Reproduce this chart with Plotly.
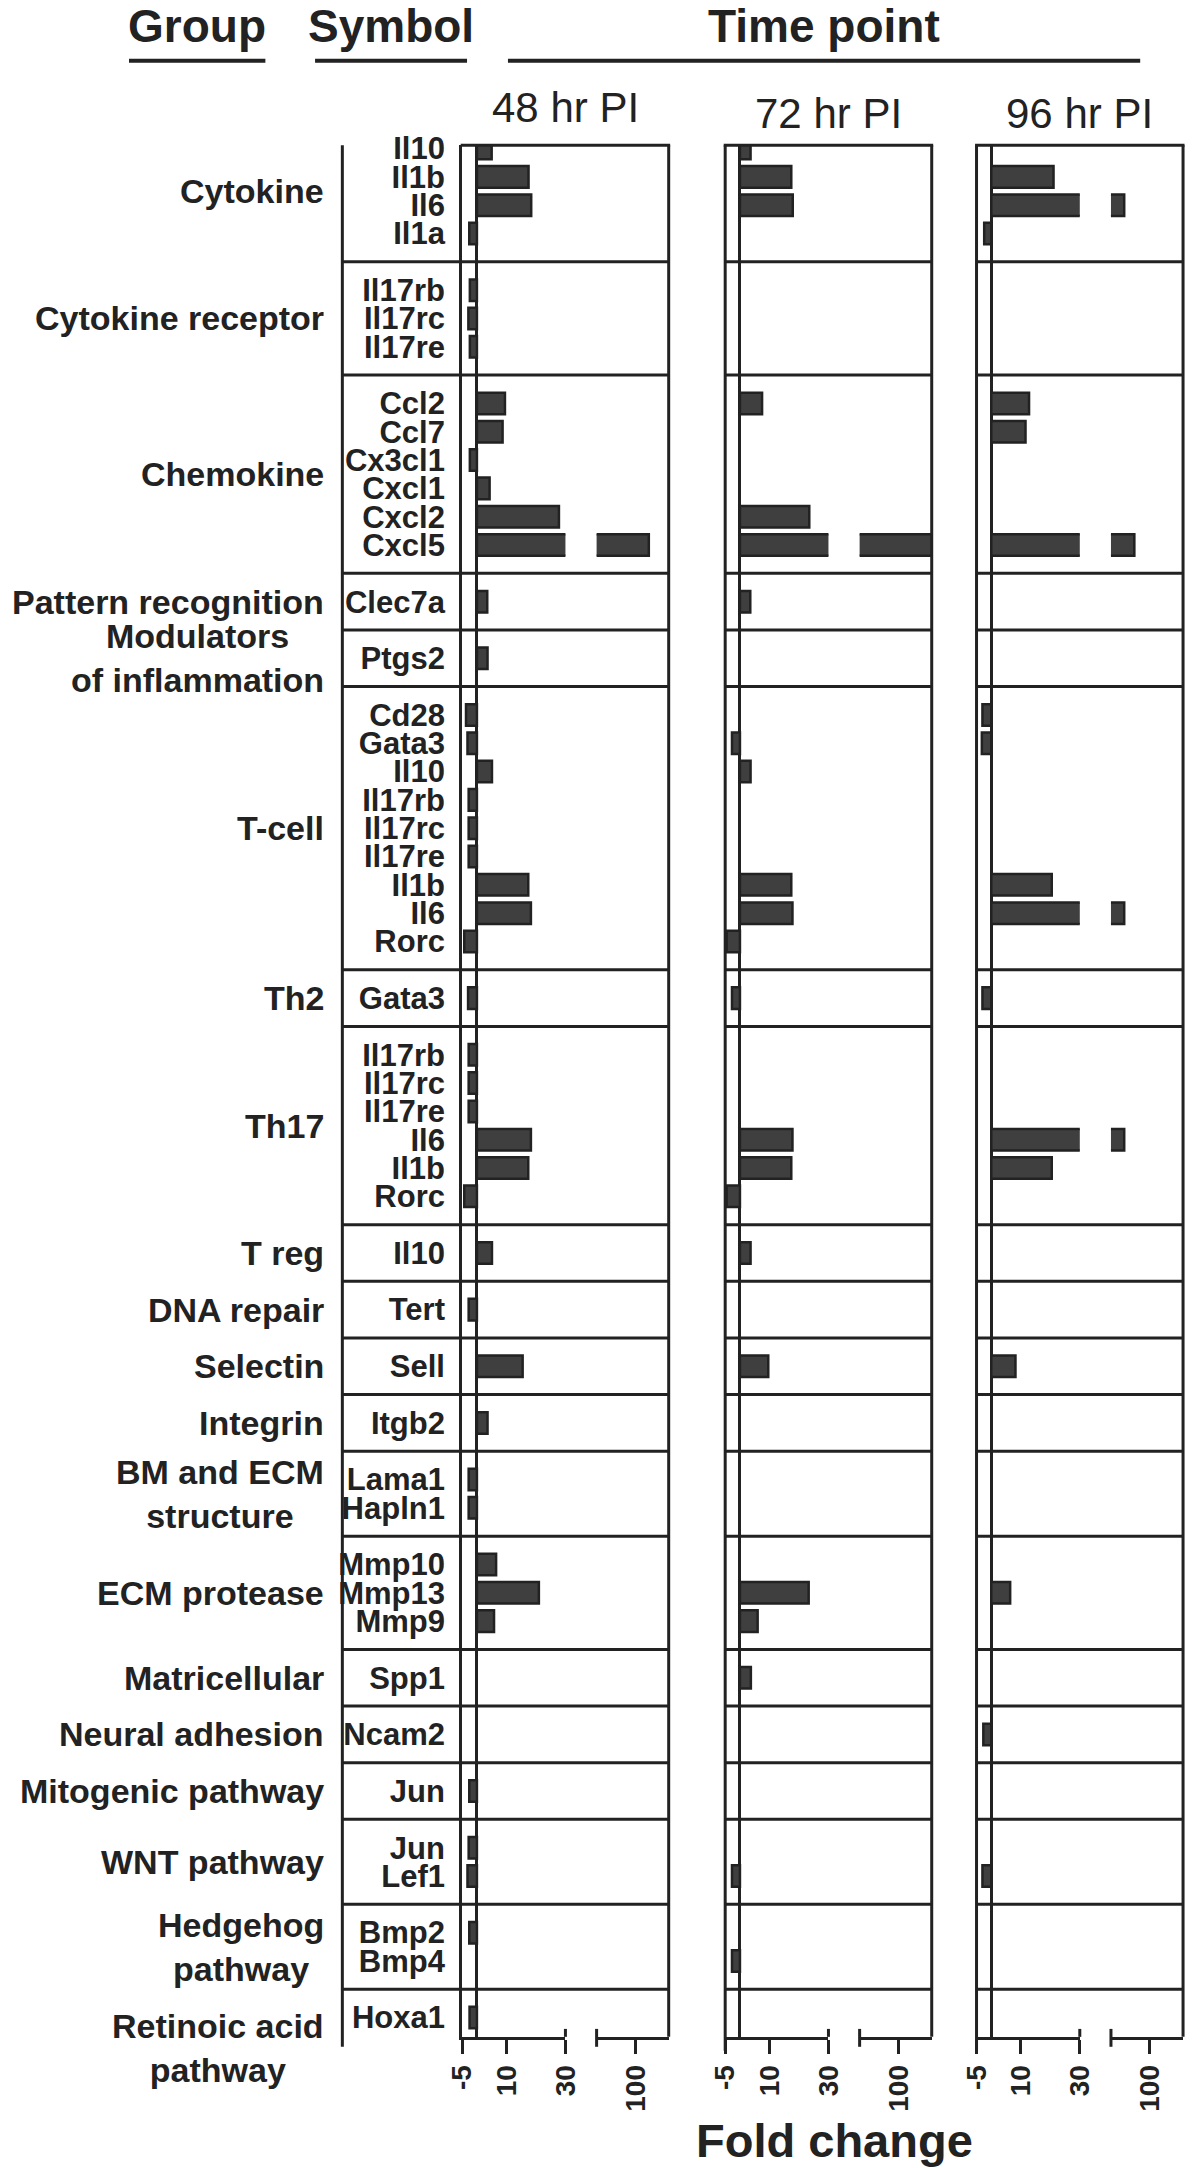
import plotly.graph_objects as go

# groups (top to bottom) and number of gene symbols in each
groups = ["Cytokine", "Cytokine receptor", "Chemokine", "Pattern recognition",
          "Modulators<br>of inflammation", "T-cell", "Th2", "Th17", "T reg", "DNA repair",
          "Selectin", "Integrin", "BM and ECM<br>structure", "ECM protease", "Matricellular",
          "Neural adhesion", "Mitogenic pathway", "WNT pathway", "Hedgehog<br>pathway",
          "Retinoic acid<br>pathway"]
group_sizes = [4, 3, 6, 1, 1, 9, 1, 6, 1, 1, 1, 1, 2, 3, 1, 1, 1, 2, 2, 1]

symbols = ["Il10", "Il1b", "Il6", "Il1a",
           "Il17rb", "Il17rc", "Il17re",
           "Ccl2", "Ccl7", "Cx3cl1", "Cxcl1", "Cxcl2", "Cxcl5",
           "Clec7a", "Ptgs2",
           "Cd28", "Gata3", "Il10", "Il17rb", "Il17rc", "Il17re", "Il1b", "Il6", "Rorc",
           "Gata3",
           "Il17rb", "Il17rc", "Il17re", "Il6", "Il1b", "Rorc",
           "Il10", "Tert", "Sell", "Itgb2", "Lama1", "Hapln1",
           "Mmp10", "Mmp13", "Mmp9", "Spp1", "Ncam2", "Jun", "Jun", "Lef1",
           "Bmp2", "Bmp4", "Hoxa1"]

# fold change per time point (None = no bar)
fc_48 = [5.0, 17.5, 18.4, -2.6,
         -2.4, -2.9, -2.4,
         9.5, 8.7, -2.4, 4.3, 27.8, 117,
         3.5, 3.6,
         -3.7, -3.2, 5.1, -2.8, -2.8, -2.8, 17.4, 18.3, -4.3,
         -3.0,
         -2.8, -2.8, -2.8, 18.3, 17.4, -4.3,
         5.1, -2.8, 15.5, 3.6, -2.8, -2.8,
         6.5, 21.0, 5.8, None, None, -2.6, -2.8, -3.2,
         -2.6, None, -2.5]
fc_72 = [3.6, 17.4, 17.9, None,
         None, None, None,
         7.5, None, None, None, 23.5, 150,
         3.5, None,
         None, -2.7, 3.6, None, None, None, 17.4, 17.8, -4.5,
         -2.7,
         None, None, None, 17.8, 17.4, -4.5,
         3.6, None, 9.6, None, None, None,
         None, 23.3, 6.0, 3.7, None, None, None, -2.7,
         None, -2.7, None]
fc_96 = [None, 21.1, 67, -2.4,
         None, None, None,
         12.8, 11.6, None, None, None, 80,
         None, None,
         -3.0, -3.2, None, None, None, None, 20.5, 67, None,
         -3.0,
         None, None, None, 67, 20.5, None,
         None, None, 8.2, None, None, None,
         None, 6.4, None, None, -2.7, None, None, -3.0,
         None, None, None]

timepoints = ["48 hr PI", "72 hr PI", "96 hr PI"]
series = [fc_48, fc_72, fc_96]
low_range = [-5, 30]
high_range = [50, 142.5]
low_ticks = [-5, 10, 30]
high_ticks = [100]

# row positions: one unit per gene, two units between groups
pos, seps, centers = [], [], []
y = 0
for i, n in enumerate(group_sizes):
    pos += [y + k for k in range(n)]
    centers.append(y + (n - 1) / 2)
    y += n - 1
    if i < len(group_sizes) - 1:
        seps.append(y + 1)
        y += 2

W, H = 1200, 2168
TOP, BOT = 132, 2036
LINE = "#222222"
BAR = "#3f3f3f"
FONT = "Liberation Sans, Arial, sans-serif"
NARROW = "Liberation Sans Narrow, Arial Narrow, Liberation Sans, Arial"


def px(x):
    return x / W


def py(yy):
    return 1 - yy / H


panel_left = [458, 728, 986]
SEG1, SEG2_START, SEG_END = 106, 138, 212

fig = go.Figure()
layout_axes = {}
shapes = []
annotations = []

for p, (vals, title) in enumerate(zip(series, timepoints)):
    left = panel_left[p]
    xa1 = "x" if p == 0 else f"x{2 * p + 1}"
    xa2 = f"x{2 * p + 2}"
    for xa in (xa1, xa2):
        fig.add_trace(go.Bar(
            x=vals, y=pos, orientation="h", width=0.76,
            marker=dict(color=BAR, line=dict(color=LINE, width=2.5)),
            xaxis=xa, yaxis="y", hoverinfo="skip",
        ))
    common = dict(anchor="y", showgrid=False, showline=True, linecolor=LINE, linewidth=3,
                  ticks="outside", ticklen=14, tickwidth=3, tickcolor=LINE, tickangle=-90,
                  tickfont=dict(family=FONT, size=28, color=LINE, weight="bold"),
                  fixedrange=True)
    layout_axes["xaxis" if p == 0 else f"xaxis{2 * p + 1}"] = dict(
        domain=[px(left), px(left + SEG1)], range=low_range,
        tickvals=low_ticks, ticktext=[str(t) for t in low_ticks],
        zeroline=True, zerolinecolor=LINE, zerolinewidth=3, **common)
    layout_axes[f"xaxis{2 * p + 2}"] = dict(
        domain=[px(left + SEG2_START), px(left + SEG_END)], range=high_range,
        tickvals=high_ticks, ticktext=[str(t) for t in high_ticks],
        zeroline=False, **common)

    ln = dict(color=LINE, width=3)
    # frame: top and right borders, left border for later panels
    shapes.append(dict(type="line", xref="paper", yref="paper", x0=px(left - 1.5), x1=px(left + SEG_END + 1.5),
                       y0=py(TOP), y1=py(TOP), line=ln))
    shapes.append(dict(type="line", xref="paper", yref="paper", x0=px(left + SEG_END), x1=px(left + SEG_END),
                       y0=py(TOP), y1=py(BOT), line=ln))
    if p > 0:
        shapes.append(dict(type="line", xref="paper", yref="paper", x0=px(left), x1=px(left),
                           y0=py(TOP), y1=py(BOT + 14), line=ln))
    # caps at the axis break
    shapes.append(dict(type="line", xref="paper", yref="paper", x0=px(left + SEG1), x1=px(left + SEG1),
                       y0=py(BOT - 8), y1=py(BOT), line=ln))
    shapes.append(dict(type="line", xref="paper", yref="paper", x0=px(left + SEG2_START), x1=px(left + SEG2_START),
                       y0=py(BOT - 8), y1=py(BOT + 10), line=ln))
    # group separators
    x_start = 335 if p == 0 else left
    for s in seps:
        shapes.append(dict(type="line", xref="paper", yref="y", x0=px(x_start), x1=px(left + SEG_END),
                           y0=s, y1=s, line=ln))
    annotations.append(dict(text=title, xref="paper", yref="paper", x=px(left + SEG_END / 2),
                            y=py(120 if p == 0 else 126), xanchor="center", yanchor="bottom",
                            showarrow=False, font=dict(family=NARROW, size=42, color=LINE)))

# group column line
shapes.append(dict(type="line", xref="paper", yref="paper", x0=px(335), x1=px(335),
                   y0=py(TOP), y1=py(2046), line=dict(color=LINE, width=3)))

# group labels
label_shift = {"Retinoic acid<br>pathway": -30}
for g, c in zip(groups, centers):
    annotations.append(dict(text=g, xref="paper", yref="y", x=px(318), y=c, xanchor="right",
                            yanchor="middle", align="center", showarrow=False,
                            yshift=label_shift.get(g, 0),
                            font=dict(family=FONT, size=34, color=LINE, weight="bold")))

# column headers with underlines
headers = [("Group", 116, 256), ("Symbol", 307, 463), ("Time point", 505, 1154)]
for text, x0, x1 in headers:
    annotations.append(dict(text=text, xref="paper", yref="paper", x=px((x0 + x1) / 2), y=py(40),
                            xanchor="center", yanchor="bottom", showarrow=False,
                            font=dict(family=NARROW, size=46, color=LINE, weight="bold")))
    shapes.append(dict(type="line", xref="paper", yref="paper", x0=px(x0), x1=px(x1),
                       y0=py(47), y1=py(47), line=dict(color=LINE, width=4)))

annotations.append(dict(text="Fold change", xref="paper", yref="paper", x=px(840), y=py(2140),
                        xanchor="center", yanchor="middle", showarrow=False,
                        font=dict(family=NARROW, size=47, color=LINE, weight="bold")))

fig.update_layout(
    width=W, height=H, margin=dict(l=0, r=0, t=0, b=0),
    paper_bgcolor="white", plot_bgcolor="white", showlegend=False, barmode="overlay",
    yaxis=dict(domain=[py(BOT), py(TOP)], range=[pos[-1] + 0.68, -0.12],
               tickvals=pos, ticktext=symbols, ticks="", ticklabelstandoff=8,
               tickfont=dict(family=FONT, size=31, color=LINE, weight="bold"),
               showline=True, linecolor=LINE, linewidth=3, showgrid=False, zeroline=False,
               fixedrange=True),
    shapes=shapes, annotations=annotations,
    **layout_axes,
)

fig.write_html("out.html", config={"displayModeBar": False},
               post_script="document.body.style.margin='0px';")
